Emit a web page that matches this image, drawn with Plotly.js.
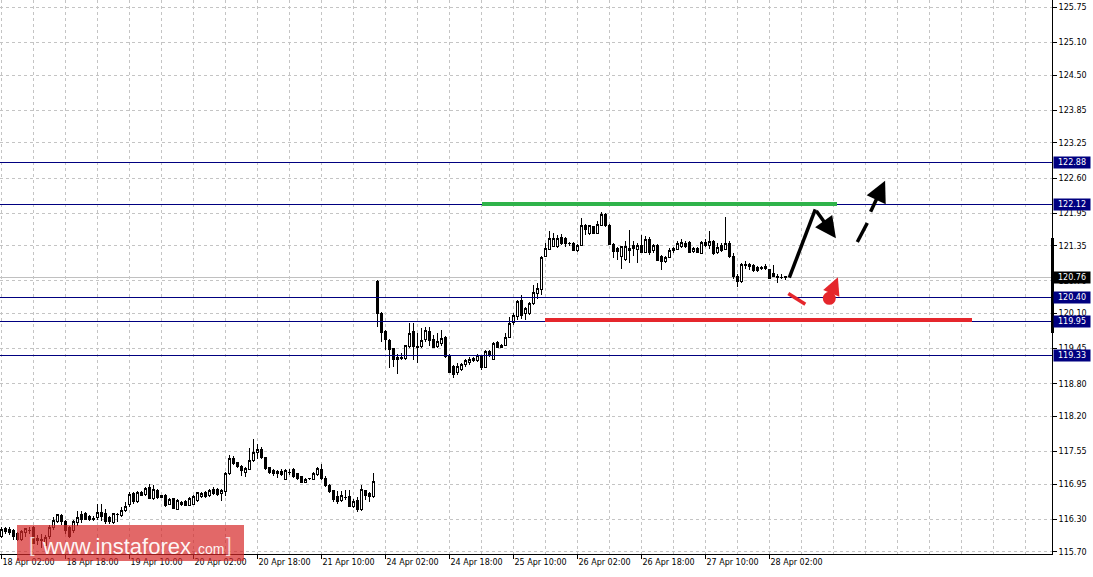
<!DOCTYPE html>
<html>
<head>
<meta charset="utf-8">
<script src="https://cdn.plot.ly/plotly-3.0.1.min.js"></script>
<style>
html,body{margin:0;padding:0;background:#fff;}
#chart{width:1093px;height:577px;}
#chart .cartesianlayer .trace path{shape-rendering:crispEdges;}
#chart .shapelayer path[data-index="0"],#chart .shapelayer path[data-index="1"],#chart .shapelayer path[data-index="2"],
#chart .shapelayer path[data-index="3"],#chart .shapelayer path[data-index="4"],#chart .shapelayer path[data-index="5"],
#chart .shapelayer path[data-index="6"],#chart .shapelayer path[data-index="7"],#chart .shapelayer path[data-index="12"],
#chart .shapelayer path[data-index="13"]{shape-rendering:crispEdges;}
</style>
</head>
<body>
<div id="chart"></div>
<script>
// Hourly bars, 18 Apr 02:00 -> 28 Apr 06:00 (bar index = position on the time axis)
const opens = [
115.99,116.13,116.11,116.10,116.03,115.93,116.05,116.10,116.15,115.95,115.90,115.82,115.99,116.15,116.26,116.37,
116.26,116.15,116.09,116.24,116.38,116.40,116.35,116.32,116.33,116.42,116.40,116.33,116.24,116.38,116.36,116.46,
116.58,116.77,116.63,116.80,116.75,116.89,116.68,116.83,116.73,116.73,116.58,116.69,116.48,116.61,116.62,116.56,
116.58,116.64,116.72,116.79,116.73,116.85,116.84,116.78,116.81,117.14,117.43,117.35,117.28,117.16,117.22,117.38,
117.53,117.59,117.44,117.26,117.20,117.18,117.18,117.04,117.17,117.21,117.15,117.09,116.97,117.05,117.04,117.12,
117.21,117.06,116.93,116.83,116.72,116.64,116.71,116.72,116.54,116.64,116.48,116.83,116.78,116.72,120.69,120.10,
119.76,119.60,119.46,119.25,119.28,119.27,119.49,119.76,119.49,119.49,119.61,119.77,119.61,119.49,119.55,119.66,
119.31,119.12,119.01,119.06,119.15,119.19,119.27,119.24,119.31,119.11,119.39,119.25,119.56,119.47,119.51,119.66,
119.93,120.04,120.34,120.09,120.10,120.29,120.47,120.55,121.15,121.28,121.34,121.33,121.51,121.49,121.40,121.40,
121.27,121.36,121.72,121.58,121.70,121.58,121.73,121.92,121.73,121.38,121.30,121.15,121.09,121.30,121.35,121.29,
121.35,121.22,121.47,121.27,121.36,121.15,121.06,121.14,121.27,121.29,121.33,121.40,121.41,121.24,121.30,121.21,
121.41,121.36,121.43,121.22,121.35,121.29,121.40,121.16,120.79,120.69,120.98,121.01,120.99,120.95,120.94,120.96,
120.92,120.84,120.79,120.77,120.78
];
const highs = [
116.15,116.15,116.15,116.12,116.06,116.10,116.14,116.16,116.17,116.00,116.03,116.00,116.19,116.34,116.40,116.40,
116.28,116.17,116.28,116.46,116.46,116.44,116.38,116.36,116.58,116.58,116.48,116.36,116.41,116.41,116.53,116.62,
116.81,116.80,116.83,116.82,116.90,116.95,116.93,116.86,116.74,116.77,116.69,116.70,116.67,116.64,116.65,116.71,
116.75,116.81,116.81,116.82,116.86,116.89,116.87,116.85,117.18,117.49,117.46,117.36,117.30,117.26,117.61,117.78,
117.69,117.64,117.45,117.27,117.22,117.21,117.22,117.22,117.22,117.24,117.16,117.10,117.06,117.07,117.18,117.26,
117.32,117.09,116.95,116.84,116.83,116.83,116.84,116.84,116.67,116.71,116.93,116.84,116.81,117.16,120.71,120.13,
119.79,119.62,119.47,119.36,119.37,119.52,119.93,119.93,119.73,119.83,119.85,119.85,119.70,119.74,119.79,119.68,
119.35,119.15,119.18,119.18,119.25,119.29,119.30,119.36,119.33,119.43,119.43,119.58,119.60,119.53,119.73,120.04,
120.11,120.35,120.44,120.22,120.32,120.63,120.66,121.16,121.41,121.63,121.58,121.55,121.57,121.51,121.42,121.42,
121.39,121.86,121.75,121.74,121.72,121.81,121.98,121.96,121.75,121.41,121.33,121.35,121.44,121.64,121.43,121.40,
121.55,121.53,121.51,121.39,121.39,121.18,121.16,121.30,121.33,121.43,121.47,121.43,121.43,121.33,121.33,121.43,
121.47,121.63,121.46,121.41,121.41,121.89,121.43,121.21,120.83,121.04,121.06,121.04,121.01,120.98,120.98,121.02,
120.93,120.99,120.83,120.83,120.78
];
const lows = [
115.95,116.02,116.00,115.92,115.90,115.90,115.98,116.02,115.84,115.82,115.76,115.80,115.94,116.11,116.23,116.19,
116.02,115.95,116.04,116.17,116.23,116.28,116.27,116.26,116.29,116.26,116.22,116.22,116.22,116.25,116.35,116.44,
116.53,116.59,116.60,116.72,116.73,116.67,116.66,116.68,116.69,116.53,116.56,116.48,116.47,116.54,116.54,116.54,
116.56,116.62,116.69,116.69,116.71,116.75,116.73,116.64,116.72,117.12,117.30,117.24,117.10,117.08,117.21,117.36,
117.41,117.42,117.21,117.14,117.09,117.07,117.09,117.02,117.12,117.06,117.02,116.96,116.96,117.03,117.02,117.10,
117.02,116.90,116.78,116.62,116.59,116.62,116.66,116.53,116.50,116.44,116.46,116.66,116.62,116.70,119.85,119.58,
119.43,119.09,119.12,118.98,119.24,119.24,119.46,119.24,119.18,119.46,119.58,119.49,119.46,119.46,119.50,119.27,
119.00,118.90,118.96,119.03,119.12,119.15,119.21,119.21,119.06,119.09,119.29,119.24,119.46,119.46,119.50,119.64,
119.89,119.98,119.99,119.98,120.07,120.26,120.36,120.44,121.14,121.27,121.33,121.30,121.37,121.33,121.35,121.26,
121.24,121.35,121.55,121.55,121.56,121.56,121.71,121.70,121.36,121.12,121.09,120.93,121.06,121.04,121.16,121.04,
121.21,121.21,121.18,121.21,121.06,120.90,121.03,121.12,121.21,121.27,121.30,121.30,121.21,121.21,121.21,121.20,
121.33,121.29,121.18,121.20,121.24,121.27,121.12,120.73,120.58,120.67,120.92,120.90,120.87,120.87,120.90,120.90,
120.73,120.78,120.67,120.73,120.72
];
const closes = [
116.11,116.07,116.06,115.98,115.93,116.08,116.12,116.09,115.86,115.90,115.92,115.97,116.15,116.28,116.38,116.25,
116.10,115.99,116.25,116.33,116.30,116.30,116.29,116.30,116.42,116.35,116.25,116.25,116.40,116.39,116.47,116.54,
116.75,116.62,116.79,116.73,116.87,116.69,116.85,116.70,116.70,116.56,116.67,116.50,116.64,116.57,116.56,116.69,
116.72,116.79,116.77,116.72,116.83,116.77,116.75,116.83,117.15,117.43,117.33,117.27,117.20,117.24,117.39,117.53,
117.58,117.44,117.24,117.16,117.14,117.14,117.12,117.20,117.17,117.09,117.06,116.97,117.04,117.05,117.15,117.24,
117.06,116.93,116.81,116.66,116.62,116.73,116.70,116.54,116.62,116.48,116.84,116.73,116.72,116.99,120.10,119.74,
119.61,119.44,119.25,119.29,119.27,119.50,119.73,119.49,119.48,119.60,119.78,119.60,119.47,119.58,119.64,119.30,
119.01,118.98,119.12,119.15,119.23,119.25,119.24,119.33,119.11,119.39,119.33,119.55,119.47,119.51,119.66,119.92,
120.07,120.32,120.07,120.19,120.29,120.48,120.56,121.14,121.30,121.49,121.49,121.49,121.40,121.40,121.39,121.27,
121.36,121.72,121.65,121.72,121.58,121.75,121.92,121.73,121.38,121.24,121.24,121.33,121.33,121.27,121.30,121.35,
121.22,121.47,121.22,121.36,121.07,121.06,121.14,121.27,121.30,121.40,121.41,121.33,121.22,121.30,121.22,121.41,
121.36,121.43,121.20,121.32,121.27,121.40,121.15,120.79,120.69,121.01,121.01,120.96,120.89,120.89,120.93,120.93,
120.75,120.79,120.77,120.76,120.76
];

// time-axis labels, one every 16 bars starting at bar 0
const timeLabels = ['18 Apr 02:00','18 Apr 18:00','19 Apr 10:00','20 Apr 02:00','20 Apr 18:00','21 Apr 10:00',
  '24 Apr 02:00','24 Apr 18:00','25 Apr 10:00','26 Apr 02:00','26 Apr 18:00','27 Apr 10:00','28 Apr 02:00'];
// price-axis labels
const priceTicks = [125.75,125.10,124.50,123.85,123.25,122.60,121.95,121.35,120.70,120.10,119.45,118.80,118.20,117.55,116.95,116.30,115.70];
// horizontal levels (navy) and current bid
const levels = [122.88, 122.12, 120.40, 119.95, 119.33];
const bid = 120.76;
// drawn objects: [barIndex, price]
const greenLine = [[120.1, 122.12], [208.9, 122.12]];
const redLine = [[135.9, 119.98], [242.6, 119.98]];
const blackPath = [[196.95, 120.76], [203.45, 122.02], [208.6, 121.49]];
const dashedArrow = [[213.95, 121.42], [216.45, 121.77], [217.1, 121.95], [220.9, 122.55]];
const redDash = [[196.7, 120.47], [200.95, 120.27]];
const redDot = [206.95, 120.38];
const redArrowTip = [209.1, 120.77];
const sideBar = [119.74, 121.49];

const FONT = 'DejaVu Sans, Verdana, sans-serif';
const xIdx = opens.map((_, i) => i);

// labelled ticks every 16 bars, grid every 8 bars across the whole width
const labelVals = timeLabels.map((_, k) => k * 16);
const minorVals = [];
for (let v = 8; v <= 256; v += 8) if (labelVals.indexOf(v) < 0) minorVals.push(v);

const trace = {
  type: 'candlestick',
  x: xIdx, open: opens, high: highs, low: lows, close: closes,
  increasing: {line: {color: '#000000', width: 1}, fillcolor: '#ffffff'},
  decreasing: {line: {color: '#000000', width: 1}, fillcolor: '#000000'},
  whiskerwidth: 0,
  hoverinfo: 'skip',
  showlegend: false
};

const RED = '#e5262c';
const shapes = [];
shapes.push({type: 'line', xref: 'paper', x0: 0, x1: 1, yref: 'y', y0: bid, y1: bid,
  line: {color: '#c0c0c0', width: 1}, layer: 'below'});
levels.forEach(L => shapes.push({type: 'line', xref: 'paper', x0: 0, x1: 1, yref: 'y', y0: L, y1: L,
  line: {color: '#000080', width: 1}, layer: 'above'}));
shapes.push({type: 'line', x0: greenLine[0][0], y0: greenLine[0][1], x1: greenLine[1][0], y1: greenLine[1][1],
  line: {color: '#2fb34a', width: 3.5}, layer: 'above'});
shapes.push({type: 'line', x0: redLine[0][0], y0: redLine[0][1], x1: redLine[1][0], y1: redLine[1][1],
  line: {color: RED, width: 3.5}, layer: 'above'});
shapes.push({type: 'line', x0: blackPath[0][0], y0: blackPath[0][1], x1: blackPath[1][0], y1: blackPath[1][1],
  line: {color: '#000', width: 3.5}, layer: 'above'});
shapes.push({type: 'line', x0: dashedArrow[0][0], y0: dashedArrow[0][1], x1: dashedArrow[1][0], y1: dashedArrow[1][1],
  line: {color: '#000', width: 3.5}, layer: 'above'});
shapes.push({type: 'line', x0: redDash[0][0], y0: redDash[0][1], x1: redDash[1][0], y1: redDash[1][1],
  line: {color: RED, width: 3.5}, layer: 'above'});
shapes.push({type: 'circle', xsizemode: 'pixel', ysizemode: 'pixel', xanchor: redDot[0], yanchor: redDot[1],
  x0: -6.5, x1: 6.5, y0: -6.5, y1: 6.5, fillcolor: RED, line: {width: 0}, layer: 'above'});
shapes.push({type: 'rect', xref: 'paper', xsizemode: 'pixel', xanchor: 1, x0: -1.5, x1: 1.5,
  yref: 'y', y0: sideBar[0], y1: sideBar[1], fillcolor: '#000', line: {width: 0}, layer: 'above'});
// watermark panel
shapes.push({type: 'rect', xref: 'paper', yref: 'paper', x0: 17/1052, x1: 244/1052, y0: -7/554, y1: 29/554,
  fillcolor: 'rgba(214,40,40,0.7)', line: {width: 0}, layer: 'above'});

const annotations = [];
levels.forEach(L => annotations.push({xref: 'paper', x: 1, xanchor: 'left', xshift: 1, yref: 'y', y: L,
  text: L.toFixed(2), showarrow: false, bgcolor: '#000080', width: 34, height: 9, borderpad: 1,
  font: {family: FONT, size: 8, color: '#ffffff'}}));
annotations.push({xref: 'paper', x: 1, xanchor: 'left', xshift: 1, yref: 'y', y: bid,
  text: bid.toFixed(2), showarrow: false, bgcolor: '#000000', width: 34, height: 9, borderpad: 1,
  font: {family: FONT, size: 8, color: '#ffffff'}});
// arrows
annotations.push({x: blackPath[2][0], y: blackPath[2][1], ax: blackPath[1][0], ay: blackPath[1][1],
  axref: 'x', ayref: 'y', text: '', showarrow: true, arrowhead: 2, arrowsize: 1.2, arrowwidth: 3.5, arrowcolor: '#000'});
annotations.push({x: dashedArrow[3][0], y: dashedArrow[3][1], ax: dashedArrow[2][0], ay: dashedArrow[2][1],
  axref: 'x', ayref: 'y', text: '', showarrow: true, arrowhead: 2, arrowsize: 1.2, arrowwidth: 3.5, arrowcolor: '#000'});
annotations.push({x: redArrowTip[0], y: redArrowTip[1], ax: redDot[0], ay: redDot[1],
  axref: 'x', ayref: 'y', text: '', showarrow: true, arrowhead: 2, arrowsize: 1.0, arrowwidth: 3.5, arrowcolor: RED});
// watermark text
const WM = 'rgba(255,255,255,0.95)';
annotations.push({xref: 'paper', yref: 'paper', x: 193/1052, y: 8/554, xanchor: 'right', yanchor: 'middle',
  text: 'www.instaforex', showarrow: false,
  font: {family: 'Liberation Sans, Arial, sans-serif', size: 22, color: WM}});
annotations.push({xref: 'paper', yref: 'paper', x: 192/1052, y: 5/554, xanchor: 'left', yanchor: 'middle',
  text: '.com', showarrow: false,
  font: {family: 'Liberation Sans, Arial, sans-serif', size: 14, color: WM}});
annotations.push({xref: 'paper', yref: 'paper', x: 32/1052, y: 9/554, xanchor: 'center', yanchor: 'middle',
  text: '[', showarrow: false, font: {family: 'Liberation Sans, Arial, sans-serif', size: 20, color: 'rgba(255,255,255,0.75)'}});
annotations.push({xref: 'paper', yref: 'paper', x: 229/1052, y: 9/554, xanchor: 'center', yanchor: 'middle',
  text: ']', showarrow: false, font: {family: 'Liberation Sans, Arial, sans-serif', size: 20, color: 'rgba(255,255,255,0.75)'}});

const GRID = '#c4c4c4';
const layout = {
  width: 1093, height: 577,
  margin: {l: 0, r: 41, t: 0, b: 23, pad: 0},
  paper_bgcolor: '#ffffff', plot_bgcolor: '#ffffff',
  showlegend: false,
  boxgap: 0.375, boxgroupgap: 0,
  xaxis: {
    type: 'linear', range: [-0.375, 262.625], rangeslider: {visible: false},
    tickmode: 'array', tickvals: labelVals, ticktext: timeLabels,
    ticks: 'outside', ticklen: 4, tickcolor: '#000000', tickwidth: 1,
    ticklabelposition: 'outside right',
    showgrid: true, gridcolor: GRID, griddash: '3px,3px', gridwidth: 1,
    minor: {tickmode: 'array', tickvals: minorVals, ticks: '', showgrid: true,
      gridcolor: GRID, griddash: '3px,3px', gridwidth: 1},
    showline: true, linecolor: '#000000', linewidth: 1, zeroline: false,
    tickfont: {family: FONT, size: 8, color: '#000000'}, fixedrange: true
  },
  yaxis: {
    side: 'right', range: [115.658, 125.888],
    tickmode: 'array', tickvals: priceTicks, ticktext: priceTicks.map(v => v.toFixed(2)),
    ticks: 'outside', ticklen: 4, tickcolor: '#000000', tickwidth: 1,
    showgrid: true, gridcolor: GRID, griddash: '3px,3px', gridwidth: 1,
    showline: true, linecolor: '#000000', linewidth: 1, zeroline: false,
    tickfont: {family: FONT, size: 8, color: '#000000'}, fixedrange: true
  },
  shapes: shapes,
  annotations: annotations
};

Plotly.newPlot('chart', [trace], layout, {staticPlot: true, displayModeBar: false});
</script>
</body>
</html>
